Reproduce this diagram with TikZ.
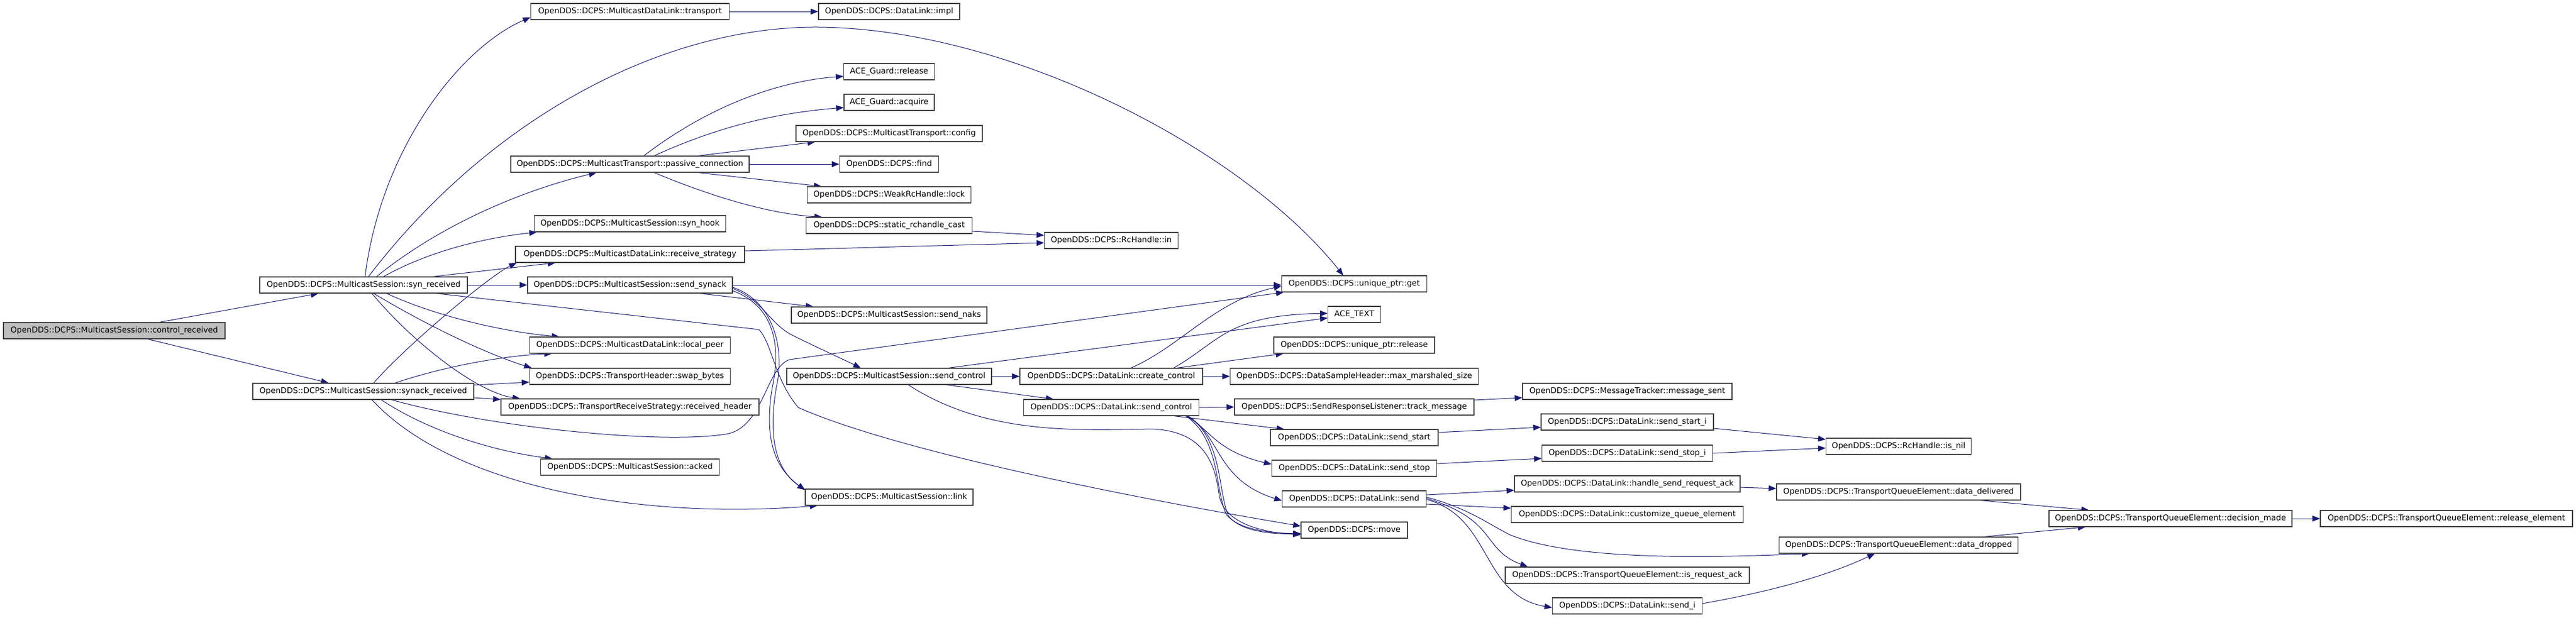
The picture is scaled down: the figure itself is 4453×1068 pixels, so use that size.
\documentclass[tikz,border=0pt]{standalone}
\usepackage{fontspec}
\setmainfont{DejaVu Sans}
\usetikzlibrary{arrows.meta,calc,backgrounds}
\definecolor{edgeblue}{HTML}{191970}
\definecolor{boxborder}{HTML}{404040}
\definecolor{rootfill}{HTML}{BFBFBF}
\begin{document}
\begin{tikzpicture}[x=1pt,y=-1pt,
  box/.style={draw=boxborder, line width=1.2pt, fill=white, minimum height=28pt,
    inner xsep=10pt, inner ysep=0pt, text=black, font=\fontsize{13.7pt}{16pt}\selectfont},
  root/.style={box, fill=rootfill},
  call/.style={draw=edgeblue, line width=1.0pt, -{Triangle[length=13pt,width=10pt]}}]
\useasboundingbox (0,0) rectangle (4453,1068);
% column 0-1
\node[root, minimum width=383pt] (cr) at (197.5,572) {OpenDDS::DCPS::MulticastSession::control\_received};
\node[box, minimum width=359pt] (synr) at (628.5,493) {OpenDDS::DCPS::MulticastSession::syn\_received};
\node[box, minimum width=382pt] (synackr) at (628,677) {OpenDDS::DCPS::MulticastSession::synack\_received};
% column 2
\node[box, minimum width=343pt] (transport) at (1089,20) {OpenDDS::DCPS::MulticastDataLink::transport};
\node[box, minimum width=412pt] (passive) at (1089,284) {OpenDDS::DCPS::MulticastTransport::passive\_connection};
\node[box, minimum width=331pt] (synhook) at (1089,387) {OpenDDS::DCPS::MulticastSession::syn\_hook};
\node[box, minimum width=396pt] (recvstrat) at (1089,440) {OpenDDS::DCPS::MulticastDataLink::receive\_strategy};
\node[box, minimum width=354pt] (sendsynack) at (1089,493) {OpenDDS::DCPS::MulticastSession::send\_synack};
\node[box, minimum width=347pt] (localpeer) at (1089,597) {OpenDDS::DCPS::MulticastDataLink::local\_peer};
\node[box, minimum width=347pt] (swapbytes) at (1089,651) {OpenDDS::DCPS::TransportHeader::swap\_bytes};
\node[box, minimum width=446pt] (recvheader) at (1089,704) {OpenDDS::DCPS::TransportReceiveStrategy::received\_header};
\node[box, minimum width=309pt] (acked) at (1089,808) {OpenDDS::DCPS::MulticastSession::acked};
% column 3
\node[box, minimum width=244pt] (impl) at (1537,20) {OpenDDS::DCPS::DataLink::impl};
\node[box, minimum width=157pt] (release) at (1537,124) {ACE\_Guard::release};
\node[box, minimum width=155pt] (acquire) at (1537,177) {ACE\_Guard::acquire};
\node[box, minimum width=322pt] (config) at (1537,231) {OpenDDS::DCPS::MulticastTransport::config};
\node[box, minimum width=171pt] (find) at (1537,284) {OpenDDS::DCPS::find};
\node[box, minimum width=283pt] (lock) at (1537,337) {OpenDDS::DCPS::WeakRcHandle::lock};
\node[box, minimum width=287pt] (rccast) at (1537,390) {OpenDDS::DCPS::static\_rchandle\_cast};
\node[box, minimum width=338pt] (sendnaks) at (1537,545) {OpenDDS::DCPS::MulticastSession::send\_naks};
\node[box, minimum width=354pt] (sendcontrol) at (1537,651) {OpenDDS::DCPS::MulticastSession::send\_control};
\node[box, minimum width=290pt] (link) at (1537,860) {OpenDDS::DCPS::MulticastSession::link};
% column 4
\node[box, minimum width=231pt] (rcin) at (1921,416) {OpenDDS::DCPS::RcHandle::in};
\node[box, minimum width=316pt] (createcontrol) at (1921,651) {OpenDDS::DCPS::DataLink::create\_control};
\node[box, minimum width=303pt] (dlsendcontrol) at (1921,705) {OpenDDS::DCPS::DataLink::send\_control};
% column 5
\node[box, minimum width=251pt] (get) at (2341,491) {OpenDDS::DCPS::unique\_ptr::get};
\node[box, minimum width=91pt] (acetext) at (2341,544) {ACE\_TEXT};
\node[box, minimum width=278pt] (uprelease) at (2341,597) {OpenDDS::DCPS::unique\_ptr::release};
\node[box, minimum width=429pt] (maxms) at (2341,651) {OpenDDS::DCPS::DataSampleHeader::max\_marshaled\_size};
\node[box, minimum width=414pt] (track) at (2341,704) {OpenDDS::DCPS::SendResponseListener::track\_message};
\node[box, minimum width=290pt] (sendstart) at (2341,757) {OpenDDS::DCPS::DataLink::send\_start};
\node[box, minimum width=285pt] (sendstop) at (2341,810) {OpenDDS::DCPS::DataLink::send\_stop};
\node[box, minimum width=249pt] (send) at (2341,863) {OpenDDS::DCPS::DataLink::send};
\node[box, minimum width=184pt] (move) at (2341,917) {OpenDDS::DCPS::move};
% column 6
\node[box, minimum width=362pt] (msgsent) at (2813,677) {OpenDDS::DCPS::MessageTracker::message\_sent};
\node[box, minimum width=298pt] (sendstarti) at (2813,730) {OpenDDS::DCPS::DataLink::send\_start\_i};
\node[box, minimum width=295pt] (sendstopi) at (2813,784) {OpenDDS::DCPS::DataLink::send\_stop\_i};
\node[box, minimum width=390pt] (hsra) at (2813,837) {OpenDDS::DCPS::DataLink::handle\_send\_request\_ack};
\node[box, minimum width=401pt] (cqe) at (2813,890) {OpenDDS::DCPS::DataLink::customize\_queue\_element};
\node[box, minimum width=422pt] (isreqack) at (2813,995) {OpenDDS::DCPS::TransportQueueElement::is\_request\_ack};
\node[box, minimum width=259pt] (sendi) at (2813,1048) {OpenDDS::DCPS::DataLink::send\_i};
% column 7-9
\node[box, minimum width=251pt] (isnil) at (3282,772) {OpenDDS::DCPS::RcHandle::is\_nil};
\node[box, minimum width=422pt] (delivered) at (3282,851) {OpenDDS::DCPS::TransportQueueElement::data\_delivered};
\node[box, minimum width=413pt] (dropped) at (3282,943) {OpenDDS::DCPS::TransportQueueElement::data\_dropped};
\node[box, minimum width=420pt] (decision) at (3752,897) {OpenDDS::DCPS::TransportQueueElement::decision\_made};
\node[box, minimum width=436pt] (releaseel) at (4229,897) {OpenDDS::DCPS::TransportQueueElement::release\_element};

\begin{scope}[on background layer]
\fill[white] (0,0) rectangle (4453,1068);
% control_received
\draw[call] ($(cr.north)+(78,0)$) -- ($(synr.south)+(-78,0)$);
\draw[call] ($(cr.south)+(58,0)$) -- ($(synackr.north)+(-60,0)$);
% syn_received
\draw[call] ($(synr.north)+(2.5,0)$) .. controls (660,250) and (800,80) .. ($(transport.west)+(0,10)$);
\draw[call] ($(synr.north)+(8.5,0)$) .. controls (850,200) and (1150,45) .. (1415,47) .. controls (1750,50) and (2150,260) .. ($(get.north)+(-19,0)$);
\draw[call] ($(synr.north)+(22.5,0)$) .. controls (760,390) and (900,330) .. ($(passive.south)+(-58,0)$);
\draw[call] ($(synr.north)+(34.5,0)$) .. controls (750,430) and (850,410) .. ($(synhook.south)+(-161,0)$);
\draw[call] ($(synr.north)+(120,0)$) -- ($(recvstrat.south)+(-129,0)$);
\draw[call] (synr.east) -- (sendsynack.west);
\draw[call] ($(synr.south)+(40,0)$) .. controls (760,550) and (880,575) .. ($(localpeer.north)+(-122,0)$);
\draw[call] ($(synr.south)+(17.5,0)$) .. controls (750,570) and (850,615) .. ($(swapbytes.north)+(-170,0)$);
\draw[call] ($(synr.south)+(14.5,0)$) .. controls (720,600) and (830,680) .. ($(recvheader.north)+(-190,0)$);
\draw[call] ($(synr.south)+(126,0)$) -- (1312,570) .. controls (1335,595) and (1338,655) .. (1380,705) .. controls (1550,780) and (1950,860) .. ($(move.west)+(0,-7)$);
% synack_received
\draw[call] ($(synackr.north)+(18,0)$) .. controls (700,600) and (845,478) .. ($(recvstrat.south)+(-196,0)$);
\draw[call] ($(synackr.north)+(55,0)$) .. controls (780,630) and (880,615) .. ($(localpeer.south)+(-135,0)$);
\draw[call] ($(synackr.east)+(0,-11)$) -- ($(swapbytes.west)+(0,10)$);
\draw[call] ($(synackr.east)+(0,11)$) -- ($(recvheader.west)+(0,-13)$);
\draw[call] ($(synackr.south)+(49,0)$) .. controls (850,740) and (1150,770) .. (1260,750) .. controls (1320,735) and (1325,635) .. (1365,622) -- ($(get.south west)+(4,0)$);
\draw[call] ($(synackr.south)+(31,0)$) .. controls (740,745) and (850,780) .. ($(acked.north)+(-134,0)$);
\draw[call] ($(synackr.south)+(15,0)$) .. controls (780,840) and (1100,900) .. ($(link.south)+(-124,0)$);
% transport / passive_connection
\draw[call] (transport.east) -- (impl.west);
\draw[call] ($(passive.north)+(24,0)$) .. controls (1230,180) and (1350,140) .. ($(release.west)+(0,8)$);
\draw[call] ($(passive.north)+(42,0)$) .. controls (1250,215) and (1350,195) .. ($(acquire.west)+(0,9)$);
\draw[call] ($(passive.north)+(118,0)$) -- ($(config.south)+(-128,0)$);
\draw[call] (passive.east) -- (find.west);
\draw[call] ($(passive.south)+(118,0)$) -- ($(lock.north)+(-117,0)$);
\draw[call] ($(passive.south)+(42,0)$) .. controls (1230,340) and (1330,370) .. ($(rccast.north)+(-116,0)$);
\draw[call] ($(rccast.east)+(0,10)$) -- ($(rcin.west)+(0,-9)$);
\draw[call] ($(recvstrat.east)+(0,-6)$) -- ($(rcin.west)+(0,4)$);
% send_synack
\draw[call] (sendsynack.east) -- (sendsynack.east -| get.west);
\draw[call] ($(sendsynack.south)+(121,0)$) -- ($(sendnaks.north)+(-131,0)$);
\draw[call] ($(sendsynack.east)+(0,6)$) .. controls (1320,520) and (1330,560) .. (1370,580) .. controls (1410,600) and (1450,618) .. ($(sendcontrol.north)+(-49,0)$);
\draw[call] ($(sendsynack.east)+(0,10)$) .. controls (1340,530) and (1350,600) .. (1335,670) .. controls (1320,760) and (1340,810) .. ($(link.north west)+(0,2)$);
\draw[call] ($(sendsynack.east)+(0,4)$) .. controls (1335,520) and (1358,600) .. (1342,670) .. controls (1326,765) and (1345,815) .. ($(link.north west)+(0,2)$);
% send_control
\draw[call] (sendcontrol.east) -- (createcontrol.west);
\draw[call] ($(sendcontrol.south)+(99,0)$) -- ($(dlsendcontrol.north)+(-100,0)$);
\draw[call] ($(sendcontrol.north)+(103,0)$) -- ($(acetext.west)+(0,6)$);
\draw[call] ($(sendcontrol.south)+(33,0)$) .. controls (1700,750) and (1850,745) .. (1990,742) .. controls (2080,745) and (2100,800) .. (2107,853) .. controls (2112,900) and (2170,920) .. ($(move.west)+(0,8)$);
% create_control
\draw[call] ($(createcontrol.north)+(34,0)$) .. controls (2040,600) and (2100,520) .. ($(get.west)+(0,4)$);
\draw[call] ($(createcontrol.north)+(108,0)$) .. controls (2110,590) and (2120,545) .. ($(acetext.west)+(0,-2)$);
\draw[call] ($(createcontrol.north)+(114,0)$) -- ($(uprelease.south west)+(17,0)$);
\draw[call] (createcontrol.east) -- (maxms.west);
% DataLink::send_control
\draw[call] (dlsendcontrol.east) -- (track.west);
\draw[call] ($(dlsendcontrol.south)+(109,0)$) -- ($(sendstart.north)+(-121,0)$);
\draw[call] ($(dlsendcontrol.south)+(129,0)$) .. controls (2090,740) and (2100,780) .. ($(sendstop.west)+(0,-7)$);
\draw[call] ($(dlsendcontrol.south)+(131,0)$) .. controls (2110,750) and (2100,830) .. ($(send.west)+(0,3)$);
\draw[call] ($(dlsendcontrol.south)+(129,0)$) .. controls (2110,760) and (2100,850) .. (2120,890) .. controls (2140,915) and (2190,922) .. ($(move.west)+(0,6)$);
\draw[call] ($(dlsendcontrol.south)+(133,0)$) .. controls (2114,760) and (2105,852) .. (2124,893) .. controls (2144,918) and (2192,924) .. ($(move.west)+(0,6)$);
% column 5 -> 6
\draw[call] ($(track.east)+(0,-12)$) -- ($(msgsent.west)+(0,11)$);
\draw[call] ($(sendstart.east)+(0,-9)$) -- ($(sendstarti.west)+(0,9)$);
\draw[call] ($(sendstop.east)+(0,-8)$) -- ($(sendstopi.west)+(0,9)$);
\draw[call] ($(send.east)+(0,-7)$) -- ($(hsra.west)+(0,11)$);
\draw[call] ($(send.east)+(0,9)$) -- ($(cqe.west)+(0,-11)$);
\draw[call] ($(send.east)+(0,-3)$) .. controls (2540,880) and (2570,905) .. (2610,925) .. controls (2720,970) and (2950,965) .. ($(dropped.south)+(-154,0)$);
\draw[call] ($(send.east)+(0,-1)$) .. controls (2590,900) and (2560,950) .. ($(isreqack.north)+(-172,0)$);
\draw[call] ($(send.east)+(0,1)$) .. controls (2580,895) and (2560,1030) .. ($(sendi.west)+(0,3)$);
% column 6 -> 7 -> 8 -> 9
\draw[call] ($(hsra.east)+(0,6)$) -- ($(delivered.west)+(0,-6)$);
\draw[call] ($(sendi.east)+(0,-4)$) .. controls (3050,1025) and (3150,1000) .. ($(dropped.south)+(-41,0)$);
\draw[call] ($(sendstarti.east)+(0,11)$) -- ($(isnil.west)+(0,-12)$);
\draw[call] (sendstopi.east) -- ($(isnil.west)+(0,3)$);
\draw[call] ($(delivered.south)+(142,0)$) -- ($(decision.north)+(-141,0)$);
\draw[call] ($(dropped.north)+(148,0)$) -- ($(decision.south)+(-147,0)$);
\draw[call] (decision.east) -- (releaseel.west);
\end{scope}
\end{tikzpicture}
\end{document}
